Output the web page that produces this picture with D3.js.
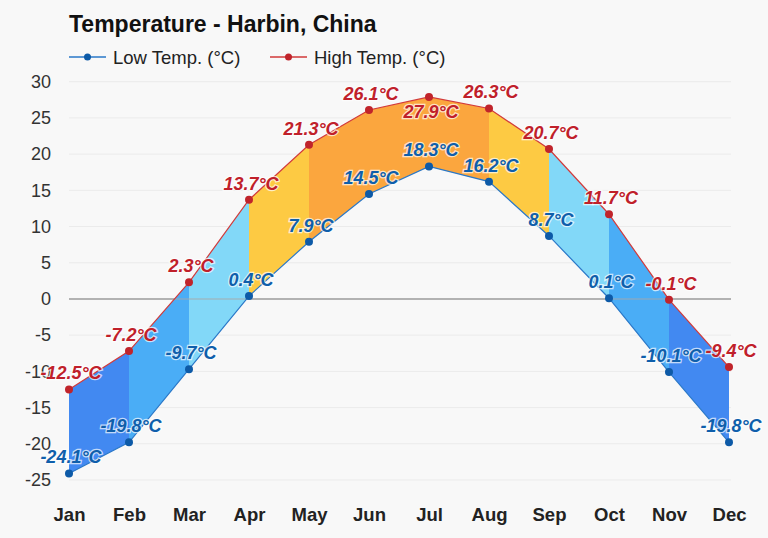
<!DOCTYPE html>
<html>
<head>
<meta charset="utf-8">
<script src="https://cdn.jsdelivr.net/npm/d3@7"></script>
<style>
  body { margin: 0; background: #f8f8f8; }
  svg { display: block; font-family: Arial, "Liberation Sans", sans-serif; }
</style>
</head>
<body>
<svg id="chart" width="768" height="538"></svg>
<script>
var months = ["Jan","Feb","Mar","Apr","May","Jun","Jul","Aug","Sep","Oct","Nov","Dec"];
var lowTemps = [-24.1,-19.8,-9.7,0.4,7.9,14.5,18.3,16.2,8.7,0.1,-10.1,-19.8];
var highTemps = [-12.5,-7.2,2.3,13.7,21.3,26.1,27.9,26.3,20.7,11.7,-0.1,-9.4];
var yTicks = [-25,-20,-15,-10,-5,0,5,10,15,20,25,30];
// fill colour of each month-to-month band
var bandColors = ["#4289f1","#4aadf6","#82d8f8","#fdca43","#fba63e","#fba63e","#fba63e","#fdca43","#82d8f8","#4aadf6","#4289f1"];

var svg = d3.select("#chart");
var x = d3.scalePoint().domain(months).range([69, 729]);
var y = d3.scaleLinear().domain([-25, 30]).range([480, 81.7]);

// grid
svg.append("g").selectAll("line").data(yTicks).join("line")
  .attr("x1", 69).attr("x2", 731)
  .attr("y1", function(d){ return y(d); }).attr("y2", function(d){ return y(d); })
  .attr("stroke", function(d){ return d === 0 ? "#a8a8a8" : "#ebebeb"; })
  .attr("stroke-width", function(d){ return d === 0 ? 1.5 : 1; });

// y axis labels
var yAxis = d3.axisLeft(y).tickValues(yTicks).tickSize(0).tickPadding(0)
  .tickFormat(function(d){ return String(d); });
var ya = svg.append("g").attr("transform", "translate(51,0)").call(yAxis);
ya.select(".domain").remove();
ya.selectAll("text").attr("font-size", 18).attr("fill", "#333").attr("font-family", "Arial, 'Liberation Sans', sans-serif");

// x axis labels
var xAxis = d3.axisBottom(x).tickSize(0).tickPadding(0);
var xa = svg.append("g").attr("transform", "translate(0,508)").call(xAxis);
xa.select(".domain").remove();
xa.selectAll("text").attr("font-size", 18.5).attr("font-weight", "bold").attr("fill", "#222")
  .attr("font-family", "Arial, 'Liberation Sans', sans-serif");

// bands
var bands = d3.range(months.length - 1);
svg.append("g").selectAll("path").data(bands).join("path")
  .attr("d", function(i){
    return "M" + x(months[i]) + "," + y(highTemps[i]) +
      "L" + x(months[i+1]) + "," + y(highTemps[i+1]) +
      "L" + x(months[i+1]) + "," + y(lowTemps[i+1]) +
      "L" + x(months[i]) + "," + y(lowTemps[i]) + "Z";
  })
  .attr("fill", function(i){ return bandColors[i]; });

// zero line over bands
svg.append("line").attr("x1", 69).attr("x2", 731).attr("y1", y(0)).attr("y2", y(0))
  .attr("stroke", "#a8a8a8").attr("stroke-width", 1.5).attr("opacity", 0.6);

var line = d3.line().x(function(d, i){ return x(months[i]); }).y(function(d){ return y(d); });
var series = [
  {name: "Low Temp. (°C)", values: lowTemps, line: "#2a78c8", dot: "#0d5aa7", label: "#0f5fab"},
  {name: "High Temp. (°C)", values: highTemps, line: "#d23a3a", dot: "#c0242b", label: "#c0202a"}
];

series.forEach(function(s){
  svg.append("path").attr("d", line(s.values)).attr("fill", "none")
    .attr("stroke", s.line).attr("stroke-width", 1.2);
  svg.append("g").selectAll("circle").data(s.values).join("circle")
    .attr("cx", function(d, i){ return x(months[i]); })
    .attr("cy", function(d){ return y(d); })
    .attr("r", 4).attr("fill", s.dot);
});

// data labels
series.forEach(function(s){
  var maxV = d3.max(s.values);
  svg.append("g").selectAll("text").data(s.values).join("text")
    .attr("x", function(d, i){ return x(months[i]) + 2; })
    .attr("y", function(d){
      if (s === series[1] && d === maxV) return y(d) + 21;
      return y(d) - 10;
    })
    .attr("text-anchor", "middle")
    .attr("font-size", 18).attr("font-weight", "bold").attr("font-style", "italic")
    .attr("fill", s.label)
    .attr("stroke", "rgba(255,255,255,0.7)").attr("stroke-width", 2.5)
    .attr("paint-order", "stroke")
    .text(function(d){ return d.toFixed(1) + "°C"; });
});

// title
svg.append("text").attr("x", 69).attr("y", 32).attr("font-size", 23).attr("font-weight", "bold")
  .attr("fill", "#111").text("Temperature - Harbin, China");

// legend
var lg = [{s: series[0], x0: 69}, {s: series[1], x0: 270}];
lg.forEach(function(l){
  var g = svg.append("g");
  g.append("line").attr("x1", l.x0).attr("x2", l.x0 + 37).attr("y1", 57).attr("y2", 57)
    .attr("stroke", l.s.line).attr("stroke-width", 1.5);
  g.append("circle").attr("cx", l.x0 + 18.5).attr("cy", 57).attr("r", 3.5).attr("fill", l.s.dot);
  g.append("text").attr("x", l.x0 + 44).attr("y", 64).attr("font-size", 18.5).attr("fill", "#222")
    .text(l.s.name);
});
</script>
</body>
</html>
